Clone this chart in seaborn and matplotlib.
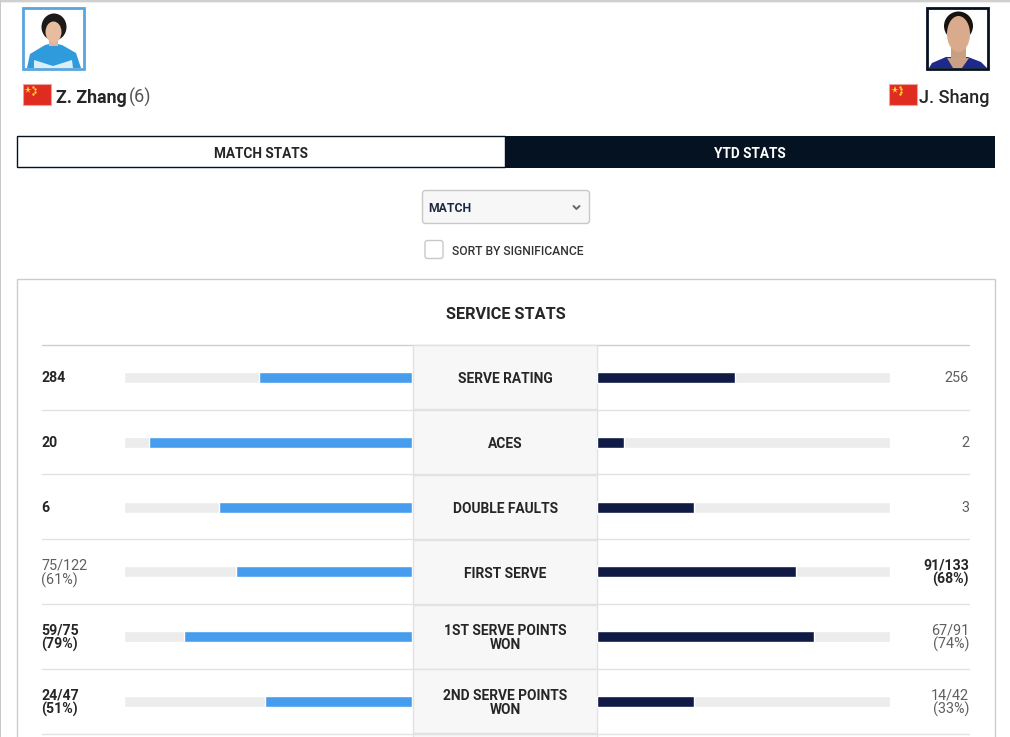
import matplotlib
matplotlib.use("Agg")
import matplotlib.pyplot as plt
from matplotlib.patches import Rectangle, FancyBboxPatch, Ellipse, Polygon
import seaborn as sns
import pandas as pd

# values
stats = ["SERVE RATING", "ACES", "DOUBLE FAULTS", "FIRST SERVE",
         "1ST SERVE POINTS\nWON", "2ND SERVE POINTS\nWON"]
left_pct = [53, 91, 67, 61, 79, 51]
right_pct = [47, 9, 33, 68, 74, 33]
left_text = ["284", "20", "6", "75/122\n(61%)", "59/75\n(79%)", "24/47\n(51%)"]
right_text = ["256", "2", "3", "91/133\n(68%)", "67/91\n(74%)", "14/42\n(33%)"]
left_bold = [True, True, True, False, True, True]
right_bold = [False, False, False, True, False, False]

BLUE = "#479ded"
NAVY = "#0f1a45"
TRACK = "#ececec"
DARK = "#041221"
INK = "#262626"
GREY = "#5f5f5f"
LINE = "#e2e2e2"

sns.set_theme(style="white")
plt.rcParams["font.family"] = ["Roboto", "DejaVu Sans"]

W, H = 1010, 737
fig = plt.figure(figsize=(W / 100, H / 100), dpi=100, facecolor="white")

# page layer in pixel coords
bg = fig.add_axes([0, 0, 1, 1], zorder=0)
bg.set_xlim(0, W)
bg.set_ylim(H, 0)
bg.axis("off")


def rect(x0, y0, x1, y1, fc="none", ec="none", lw=1, z=1):
    bg.add_patch(Rectangle((x0, y0), x1 - x0, y1 - y0, fc=fc, ec=ec, lw=lw, zorder=z))


def label(x, y, s, size, weight="normal", color=INK, ha="left"):
    bg.text(x, y, s, fontsize=size, fontweight=weight, color=color, ha=ha,
            va="center_baseline", zorder=6)


def flag(x):
    rect(x, 84, x + 28, 105, fc="#e02b20", ec="#eba3a0", lw=0.8)
    bg.plot([x + 5.5], [89.5], marker="*", ms=5.5, color="#ffd52e", mew=0, zorder=5)
    bg.plot([x + 10.5, x + 12, x + 12, x + 10.5], [87, 89, 92, 94], ls="none",
            marker=".", ms=1.5, color="#ffd52e", zorder=5)


# page edges
rect(0, 0, W, 1.5, fc="#d0d0d0")
rect(0, 1.5, W, 3, fc="#eeeeee")
rect(0, 0, 1, H, fc="#c8c8c8")

# player photos, rough shapes only
rect(22.5, 7.5, 84, 69, fc="white", ec="#5aa5de", lw=2)
bg.add_patch(Polygon([[27, 68], [30, 54], [45, 45], [53, 43], [62, 45], [76, 53], [81, 68]],
                     fc="#2f9bdc", ec="none", zorder=2))
bg.add_patch(Polygon([[34, 60], [53, 66], [72, 60], [73, 68], [34, 68]], fc="#d8eef8", ec="none", zorder=3))
bg.add_patch(Ellipse((54, 27), 25, 27, fc="#1c1a1a", ec="none", zorder=2))
bg.add_patch(Ellipse((53.5, 32), 16, 21, fc="#e8bc9e", ec="none", zorder=3))
rect(49, 38, 58, 46, fc="#e3b596", z=2)

rect(926.5, 7.5, 988, 69, fc="white", ec=DARK, lw=2)
bg.add_patch(Polygon([[929, 68], [932, 63], [946, 57], [968, 57], [981, 62], [987, 68]],
                     fc="#1d2a8c", ec="none", zorder=2))
bg.add_patch(Polygon([[947, 58], [953, 68], [962, 68], [969, 58]], fc="#caa184", ec="none", zorder=3))
bg.add_patch(Ellipse((958.5, 26), 29, 29, fc="#18130f", ec="none", zorder=2))
bg.add_patch(Ellipse((958.5, 34), 23, 36, fc="#d9ab8c", ec="none", zorder=3))
rect(951, 44, 966, 60, fc="#c99f82", z=2)

# names
flag(22.5)
label(56, 95.5, "Z. Zhang", 12.8, "bold")
label(129, 95.5, "(6)", 13, color="#555555")
flag(889)
label(989.5, 95.5, "J. Shang", 13, "medium", ha="right")

# tabs
rect(17, 136, 505, 167, fc="white", ec=DARK, lw=1)
rect(505, 136, 995, 168, fc=DARK)
label(261, 152.5, "MATCH STATS", 9.8, "bold", ha="center")
label(750, 152.5, "YTD STATS", 9.8, "bold", color="white", ha="center")

# match dropdown and checkbox
bg.add_patch(FancyBboxPatch((425.5, 193.5), 161, 27, boxstyle="round,pad=3",
                            fc="#f7f7f7", ec="#c8c8c8", lw=1, zorder=2))
label(428.5, 207, "MATCH", 8.8, "bold", color="#1d2a40")
bg.plot([573.5, 576.5, 579.5], [206, 209, 206], color="#666666", lw=1.4, zorder=5)
bg.add_patch(FancyBboxPatch((427.5, 243), 13, 13, boxstyle="round,pad=2.5",
                            fc="white", ec="#c8c8c8", lw=1, zorder=2))
label(452, 250, "SORT BY SIGNIFICANCE", 8.75, "medium", color="#333333")

# stats card
rect(17, 279, 994.5, 760, fc="white", ec="#cccccc", lw=1)
label(505.5, 312.5, "SERVICE STATS", 11.7, "bold", ha="center")

row_h = 64.8
top = 344.5
bg.plot([42, 969], [top + 0.3, top + 0.3], color="#cfcfcf", lw=1, zorder=2)
for i, name in enumerate(stats):
    y0 = top + i * row_h
    y1 = y0 + row_h
    mid = y0 + row_h / 2
    bg.plot([42, 969], [y1 + 0.3, y1 + 0.3], color=LINE, lw=1, zorder=2)
    rect(413, y0 + 0.8, 597, y1, fc="#f7f7f7", ec=LINE, lw=1, z=3)
    lines = name.split("\n")
    for j, part in enumerate(lines):
        label(505.5, mid + 0.7 + (j - (len(lines) - 1) / 2) * 14, part, 9.9, "bold", ha="center")
    for txt, bold, x, ha in [(left_text[i], left_bold[i], 42, "left"),
                             (right_text[i], right_bold[i], 969, "right")]:
        parts = txt.split("\n")
        for j, part in enumerate(parts):
            label(x - 0.5 if ha == "left" else x, mid + (j - (len(parts) - 1) / 2) * 14, part,
                  10.2 if bold else 10.4, "bold" if bold else "normal", INK if bold else GREY, ha)
rect(413, top + 6 * row_h + 0.8, 597, H + 5, fc="#f7f7f7", ec=LINE, lw=1, z=3)

# bars
df = pd.DataFrame({"stat": stats, "left": left_pct, "right": right_pct, "full": [100] * len(stats)})
bar_w = 11 / row_h


def bar_axes(x0, x1):
    ax = fig.add_axes([x0 / W, 1 - (top + 0.5 + 6 * row_h) / H, (x1 - x0) / W, 6 * row_h / H], zorder=4)
    ax.patch.set_alpha(0)
    return ax


ax_l = bar_axes(123.5, 411.8)
sns.barplot(data=df, y="stat", x="full", color=TRACK, width=bar_w, saturation=1, ax=ax_l)
sns.barplot(data=df, y="stat", x="left", color=BLUE, width=bar_w, saturation=1, ax=ax_l)
ax_l.set_xlim(100, 0)

ax_r = bar_axes(597.2, 890)
sns.barplot(data=df, y="stat", x="full", color=TRACK, width=bar_w, saturation=1, ax=ax_r)
sns.barplot(data=df, y="stat", x="right", color=NAVY, width=bar_w, saturation=1, ax=ax_r)
ax_r.set_xlim(0, 100)

for ax in (ax_l, ax_r):
    ax.set_ylim(len(stats) - 0.5, -0.5)
    ax.set_xlabel("")
    ax.set_ylabel("")
    ax.set_xticks([])
    ax.set_yticks([])
    sns.despine(ax=ax, left=True, bottom=True)

fig.savefig("out.png", dpi=100)
